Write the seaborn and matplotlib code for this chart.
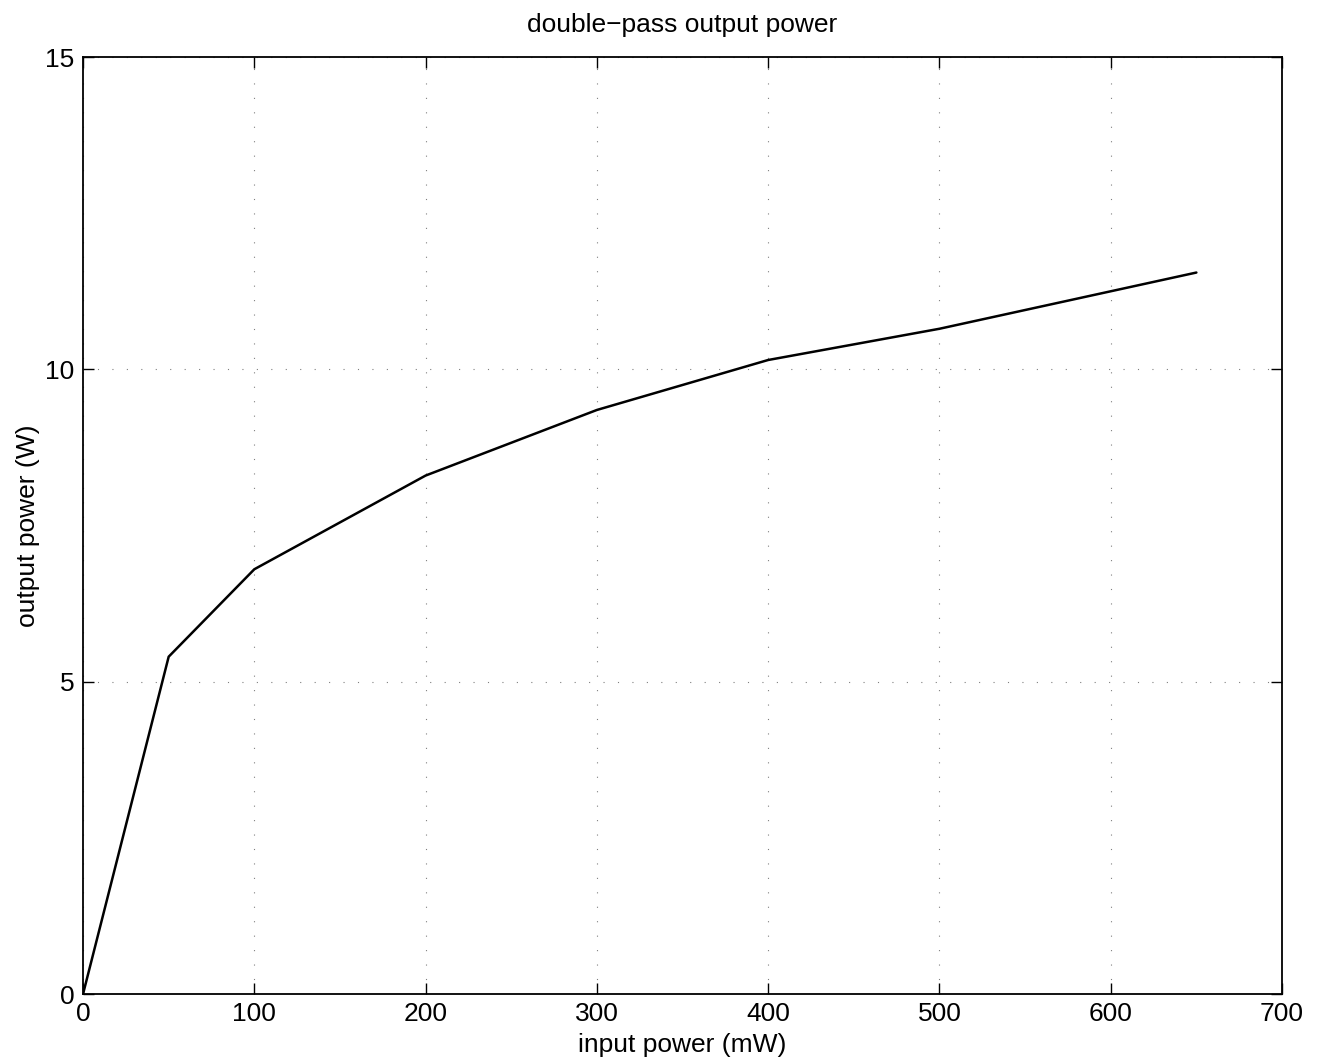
import matplotlib
matplotlib.use("Agg")
import matplotlib.pyplot as plt
import seaborn as sns
import pandas as pd

# values
input_power_mw = [0, 50, 100, 200, 300, 400, 500, 650]
output_power_w = [0, 5.4, 6.8, 8.3, 9.35, 10.15, 10.65, 11.55]
x_ticks = [0, 100, 200, 300, 400, 500, 600, 700]
y_ticks = [0, 5, 10, 15]

sns.set_theme(style="white")
plt.rcParams["font.family"] = ["Liberation Sans", "DejaVu Sans"]
plt.rcParams["text.color"] = "black"
plt.rcParams["axes.labelcolor"] = "black"

df = pd.DataFrame({"input": input_power_mw, "output": output_power_w})

fig = plt.figure(figsize=(13.18, 10.62), dpi=100)
ax = fig.add_axes([0.063, 0.064, 0.9097, 0.8823])

sns.lineplot(data=df, x="input", y="output", color="black", linewidth=1.8, ax=ax)

ax.set_xlim(0, 700)
ax.set_ylim(0, 15)
ax.set_xticks(x_ticks)
ax.set_yticks(y_ticks)
ax.grid(True, linestyle=(0, (1, 12)), color="black", linewidth=0.8, alpha=0.5)

for s in ax.spines.values():
    s.set_color("black")
    s.set_linewidth(1.3)
ax.tick_params(direction="in", length=8, width=1, colors="black", labelsize=19,
               pad=6, top=True, right=True, bottom=True, left=True)

ax.set_title("double\u2212pass output power", fontsize=19, pad=18)
ax.set_xlabel("input power (mW)", fontsize=19, labelpad=5)
ax.set_ylabel("output power (W)", fontsize=19, labelpad=4)

fig.savefig("out.png", dpi=100, facecolor="white")
